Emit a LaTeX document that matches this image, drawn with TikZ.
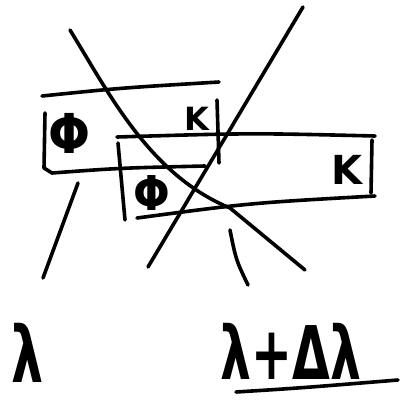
\documentclass[tikz,border=0pt]{standalone}
\usepackage{fontspec}
\setmainfont{DejaVu Sans}
\begin{document}
\begin{tikzpicture}[x=1pt,y=-1pt,
  stroke/.style={line width=3.6pt,line cap=round,line join=round},
  lbl/.style={inner sep=0pt,font=\fontsize{#1}{#1}\selectfont\bfseries},
  lbl/.default=40]
\useasboundingbox (0,0) rectangle (403,407);
% box 1 (upper left)
\draw[stroke] (42,96) .. controls (120,88) .. (219,82);
\draw[stroke] (45,113) -- (44,168) -- (52,173) .. controls (120,168) .. (205,166);
\draw[stroke] (217,100) -- (219,163);
\node[lbl=55,xscale=0.9] (phiA) at (70,133) {Φ};
\node[lbl=32] (kA) at (197,119) {K};
% box 2 (lower right)
\draw[stroke] (117,137) .. controls (250,133) .. (375,136);
\draw[stroke] (118,143) -- (125,220);
\draw[stroke] (137,218) .. controls (250,203) .. (375,196);
\draw[stroke] (372,140) -- (371,193);
\node[lbl=48,xscale=0.9] (phiB) at (152,193) {Φ};
\node[lbl=40] (kB) at (347,170) {K};
% crossing lines
\coordinate (a1) at (70,30);
\coordinate (a2) at (305,270);
\draw[stroke] (a1) .. controls (110,95) and (150,175) .. (230,208) -- (a2);
\coordinate (b1) at (303,7);
\coordinate (b2) at (148,267);
\draw[stroke] (b1) -- (b2);
% legs to labels
\coordinate (l1) at (78,183);
\coordinate (l2) at (43,278);
\draw[stroke] (l1) -- (l2);
\coordinate (m1) at (230,230);
\coordinate (m2) at (248,285);
\draw[stroke] (m1) .. controls (236,260) .. (m2);
% labels
\node[lbl=78,xscale=0.65] (lam) at (28,353) {λ};
\node[lbl=74,xscale=0.66] (lamd) at (291,351) {λ+Δλ};
\coordinate (u1) at (236,392);
\coordinate (u2) at (398,380);
\draw[stroke] (u1) .. controls (300,388) .. (u2);
\end{tikzpicture}
\end{document}
